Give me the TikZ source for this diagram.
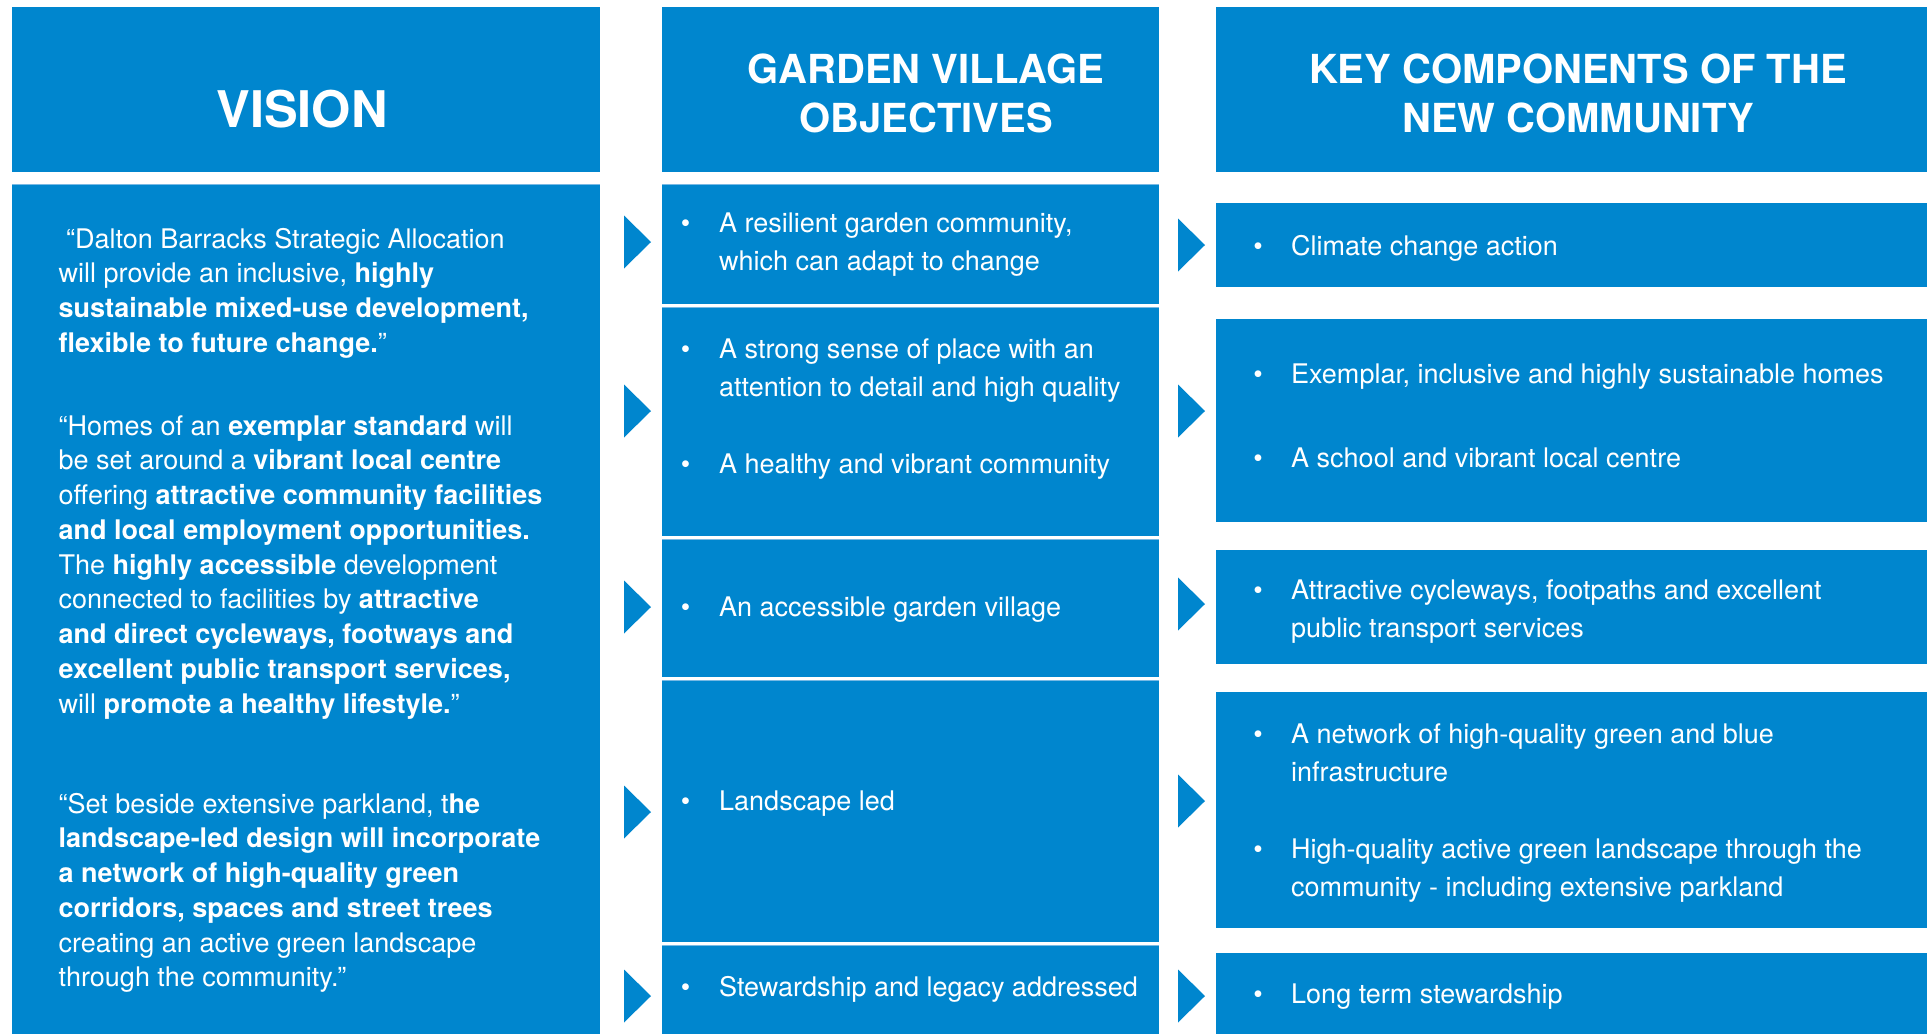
\documentclass[tikz,border=0pt]{standalone}
\usepackage{fontspec}
\setmainfont{TeX Gyre Heros}
\definecolor{dbblue}{RGB}{0,134,206}
\definecolor{dbedge}{RGB}{120,185,228}
\newcommand{\txtlines}[1]{\begin{tabular}[t]{@{}l@{}}#1\end{tabular}}
\newcommand{\ctrlines}[1]{\begin{tabular}[t]{@{}c@{}}#1\end{tabular}}
\tikzset{
  panel/.style={fill=dbblue},
  rowline/.style={draw=dbedge, line width=1pt},
  head/.style={text=white, inner sep=0pt, anchor=base, font=\bfseries\fontsize{40}{49}\selectfont},
  quotetext/.style={text=white, inner sep=0pt, anchor=base west, font=\fontsize{27}{34.75}\selectfont},
  itemtext/.style={text=white, inner sep=0pt, anchor=base west, font=\fontsize{27}{38.5}\selectfont},
  bul/.style={text=white, inner sep=0pt, anchor=base, font=\fontsize{27}{38.5}\selectfont},
}

\begin{document}
\begin{tikzpicture}[x=1pt,y=-1pt]
        \useasboundingbox (0,0) rectangle (1930,1034);
        % header boxes
        \fill[panel] (12,7) rectangle (600,172);
        \fill[panel] (662,7) rectangle (1159,172);
        \fill[panel] (1216,7) rectangle (1927,172);
        \node[head, font=\bfseries\fontsize{50.5}{60}\selectfont] (vhead) at (302,127) {VISION};
        \node[head] (ghead) at (926,83) {\ctrlines{GARDEN VILLAGE\\OBJECTIVES}};
        \node[head] (khead) at (1578,83) {\ctrlines{KEY COMPONENTS OF THE\\NEW COMMUNITY}};
        % vision column
        \fill[panel] (12,184) rectangle (600,1034);
        \draw[rowline] (12,184.5) -- (600,184.5);
        \node[quotetext] (quoteone) at (58.5,248) {\txtlines{\hspace{7.5pt}“Dalton Barracks Strategic Allocation\\
            will provide an inclusive, \textbf{highly}\\
            \textbf{sustainable mixed-use development,}\\
            \textbf{flexible to future change.}”}};
        \node[quotetext] (quotetwo) at (58.5,435) {\txtlines{“Homes of an \textbf{exemplar standard} will\\
            be set around a \textbf{vibrant local centre}\\
            offering \textbf{attractive community facilities}\\
            \textbf{and local employment opportunities.}\\
            The \textbf{highly accessible} development\\
            connected to facilities by \textbf{attractive}\\
            \textbf{and direct cycleways, footways and}\\
            \textbf{excellent public transport services,}\\
            will \textbf{promote a healthy lifestyle.}”}};
        \node[quotetext] (quotethree) at (58.5,813) {\txtlines{“Set beside extensive parkland, t\textbf{he}\\
            \textbf{landscape-led design will incorporate}\\
            \textbf{a network of high-quality green}\\
            \textbf{corridors, spaces and street trees}\\
            creating an active green landscape\\
            through the community.”}};
        % objectives column
        \fill[panel] (662,184) rectangle (1159,304);
        \fill[panel] (662,307) rectangle (1159,536);
        \fill[panel] (662,539) rectangle (1159,677);
        \fill[panel] (662,680) rectangle (1159,942);
        \fill[panel] (662,945) rectangle (1159,1034);
        \draw[rowline] (662,184.5) -- (1159,184.5);
        \draw[rowline] (662,307.5) -- (1159,307.5);
        \draw[rowline] (662,539.5) -- (1159,539.5);
        \draw[rowline] (662,680.5) -- (1159,680.5);
        \draw[rowline] (662,945.5) -- (1159,945.5);
        \node[bul] (gbone) at (685.5,232) {\textbullet};
        \node[itemtext] (gone) at (719,232) {\txtlines{A resilient garden community,\\which can adapt to change}};
        \node[bul] (gbtwo) at (685.5,358) {\textbullet};
        \node[itemtext] (gtwo) at (719,358) {\txtlines{A strong sense of place with an\\attention to detail and high quality}};
        \node[bul] (gbtwob) at (685.5,473) {\textbullet};
        \node[itemtext] (gtwob) at (719,473) {A healthy and vibrant community};
        \node[bul] (gbthree) at (685.5,616) {\textbullet};
        \node[itemtext] (gthree) at (719,616) {An accessible garden village};
        \node[bul] (gbfour) at (685.5,810) {\textbullet};
        \node[itemtext] (gfour) at (719,810) {Landscape led};
        \node[bul] (gbfive) at (685.5,996) {\textbullet};
        \node[itemtext] (gfive) at (719,996) {Stewardship and legacy addressed};
        % key components column
        \fill[panel] (1216,203) rectangle (1927,287);
        \fill[panel] (1216,319) rectangle (1927,522);
        \fill[panel] (1216,550) rectangle (1927,664);
        \fill[panel] (1216,692) rectangle (1927,928);
        \fill[panel] (1216,953) rectangle (1927,1034);
        \node[bul] (kbone) at (1258,255) {\textbullet};
        \node[itemtext] (kone) at (1291,255) {Climate change action};
        \node[bul] (kbtwo) at (1258,383) {\textbullet};
        \node[itemtext] (ktwo) at (1291,383) {Exemplar, inclusive and highly sustainable homes};
        \node[bul] (kbtwob) at (1258,467) {\textbullet};
        \node[itemtext] (ktwob) at (1291,467) {A school and vibrant local centre};
        \node[bul] (kbthree) at (1258,599) {\textbullet};
        \node[itemtext] (kthree) at (1291,599) {\txtlines{Attractive cycleways, footpaths and excellent\\public transport services}};
        \node[bul] (kbfour) at (1258,743) {\textbullet};
        \node[itemtext] (kfour) at (1291,743) {\txtlines{A network of high-quality green and blue\\infrastructure}};
        \node[bul] (kbfourb) at (1258,858) {\textbullet};
        \node[itemtext] (kfourb) at (1291,858) {\txtlines{High-quality active green landscape through the\\community - including extensive parkland}};
        \node[bul] (kbfive) at (1258,1003) {\textbullet};
        \node[itemtext] (kfive) at (1291,1003) {Long term stewardship};
        % chevrons between columns
        \fill[panel] (624,215.5) -- (651,242) -- (624,268.5) -- cycle;
        \fill[panel] (624,384.5) -- (651,411) -- (624,437.5) -- cycle;
        \fill[panel] (624,580.5) -- (651,607) -- (624,633.5) -- cycle;
        \fill[panel] (624,785.5) -- (651,812) -- (624,838.5) -- cycle;
        \fill[panel] (624,969.5) -- (651,996) -- (624,1022.5) -- cycle;
        \fill[panel] (1178,218.5) -- (1205,245) -- (1178,271.5) -- cycle;
        \fill[panel] (1178,384.5) -- (1205,411) -- (1178,437.5) -- cycle;
        \fill[panel] (1178,577.5) -- (1205,604) -- (1178,630.5) -- cycle;
        \fill[panel] (1178,774.5) -- (1205,801) -- (1178,827.5) -- cycle;
        \fill[panel] (1178,969.5) -- (1205,996) -- (1178,1022.5) -- cycle;
\end{tikzpicture}
\end{document}
